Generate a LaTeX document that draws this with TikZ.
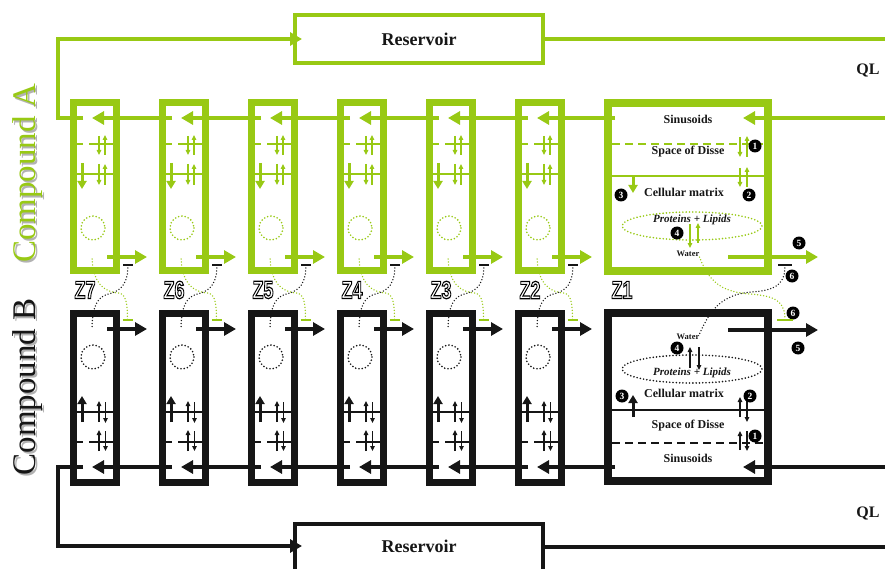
\documentclass[tikz,border=0pt]{standalone}
\usepackage{fontspec}
\usepackage{graphicx}
\setmainfont{Liberation Serif}
\newfontfamily\zfont{Liberation Sans}
\usetikzlibrary{arrows.meta}
\definecolor{gA}{RGB}{152,201,20}
\definecolor{kB}{RGB}{22,22,22}
\newcommand\outlinetext[1]{\special{pdf:literal direct 1 Tr 1.2 w}#1\special{pdf:literal direct 0 Tr}}
\tikzset{
 boxw/.style={draw, line width=7pt, minimum width=43pt, minimum height=167pt, inner sep=0pt},
 bigbox/.style={draw, line width=8pt, minimum width=160pt, minimum height=168pt, inner sep=0pt},
 resbox/.style={draw, line width=4pt, minimum width=248pt, minimum height=48pt, inner sep=0pt},
 restext/.style={font=\bfseries\fontsize{18}{18}\selectfont, text=kB, inner sep=0pt},
 flow/.style={line width=4pt, -{Triangle[length=12pt,width=13pt]}},
 flowline/.style={line width=4pt},
 vflux/.style={line width=3pt, -{Triangle[length=8pt,width=9pt]}},
 thinar/.style={line width=1.2pt, -{Triangle[length=5pt,width=4.5pt]}},
 memb/.style={line width=2.5pt},
 dmemb/.style={line width=2.5pt, dash pattern=on 8pt off 5pt},
 dotring/.style={line width=1.8pt, line cap=round, dash pattern=on 0pt off 3.3pt},
 conn/.style={line width=1.5pt, line cap=round, dash pattern=on 0pt off 3pt},
 tbar/.style={line width=1.2pt},
 num/.style={circle, fill=black, text=white, inner sep=0pt, minimum size=13pt, font=\bfseries\fontsize{9.5}{9.5}\selectfont},
 lab/.style={font=\bfseries\fontsize{12}{12}\selectfont, text=kB, inner sep=0pt},
 plab/.style={font=\bfseries\itshape\fontsize{11}{11}\selectfont, text=kB, inner sep=0pt},
 wlab/.style={font=\bfseries\fontsize{8.5}{8.5}\selectfont, text=kB, inner sep=0pt},
 qlab/.style={font=\bfseries\fontsize{16}{16}\selectfont, text=kB, inner sep=0pt},
 zlabf/.style={font=\zfont\bfseries\fontsize{25}{25}\selectfont, inner sep=0pt, text=black},
 cmp/.style={rotate=90, anchor=base, font=\fontsize{33}{33}\selectfont, inner sep=0pt},
}
\begin{document}
\begin{tikzpicture}[x=1pt,y=-1pt]
\useasboundingbox (0,0) rectangle (885,569);
\clip (0,0) rectangle (885,569);

% ---------- side labels ----------
\node[cmp, text=black!30] at (37.5,175.5) {Compound A};
\node[cmp, text=gA] (cmpA) at (35.5,173.5) {Compound A};
\node[cmp, text=black!30] at (37.5,389) {Compound B};
\node[cmp, text=kB] (cmpB) at (35.5,387) {Compound B};

% ---------- reservoirs ----------
\node[resbox, draw=gA] (resA) at (419,39) {};
\node[restext] (resAt) at (419,39) {Reservoir};
\node[resbox, draw=kB, minimum height=64pt] (resB) at (419,556) {};
\node[restext] (resBt) at (419,546) {Reservoir};
\node[qlab] (qlA) at (868,71) {QL};
\node[qlab] (qlB) at (868,513) {QL};

\coordinate (edgeA) at (885,39);
\coordinate (edgeB) at (885,547);
\coordinate (resBout) at (543,547);
\coordinate (resAin) at (302,39);
\coordinate (resBin) at (302,546);
\draw[flowline, gA] (resA.east) -- (edgeA);
\draw[flowline, kB] (resBout) -- (edgeB);

% ---------- small compartments Z7..Z2 ----------
\foreach \i/\z in {0/7,1/6,2/5,3/4,4/3,5/2}{
 \pgfmathsetmacro\L{73.5+89*\i}
 \coordinate (aT\z) at (\L+18.5,118);
 \coordinate (aS\z) at (\L+9.5,118);
 \coordinate (bT\z) at (\L+18.5,467);
 \coordinate (bS\z) at (\L+9.5,467);
 % ---- compound A (green) ----
 \draw[memb, gA] (\L+3.5,144) -- (\L+9.5,144);
 \draw[memb, gA] (\L+15.5,144) -- (\L+39.5,144);
 \draw[memb, gA] (\L+3.5,174) -- (\L+39.5,174);
 \draw[thinar, gA] (\L+25.5,136) -- (\L+25.5,155);
 \draw[thinar, gA] (\L+31.5,155) -- (\L+31.5,135);
 \draw[thinar, gA] (\L+25.5,164) -- (\L+25.5,185);
 \draw[thinar, gA] (\L+31.5,185) -- (\L+31.5,164);
 \draw[vflux, gA] (\L+8.5,163) -- (\L+8.5,189);
 \draw[dotring, gA] (\L+19.5,228) circle[radius=12];
 \coordinate (aOs\z) at (\L+33.5,257);
 \coordinate (aOe\z) at (\L+73.5,257);
 \draw[flow, gA] (aOs\z) -- (aOe\z);
 \node[boxw, draw=gA] (bA\z) at (\L+21.5,186.5) {};
 % ---- compound B (black) ----
 \coordinate (bOs\z) at (\L+33.5,329);
 \coordinate (bOe\z) at (\L+73.5,329);
 \draw[flow, kB] (bOs\z) -- (bOe\z);
 \draw[dotring, kB] (\L+19.5,357) circle[radius=12];
 \draw[memb, kB] (\L+3.5,412) -- (\L+39.5,412);
 \draw[memb, kB] (\L+3.5,442) -- (\L+9.5,442);
 \draw[memb, kB] (\L+15.5,442) -- (\L+39.5,442);
 \draw[vflux, kB] (\L+8.5,422) -- (\L+8.5,396);
 \draw[thinar, kB] (\L+25.5,422) -- (\L+25.5,401);
 \draw[thinar, kB] (\L+32,402) -- (\L+32,423);
 \draw[thinar, kB] (\L+25.5,451) -- (\L+25.5,430);
 \draw[thinar, kB] (\L+32,431) -- (\L+32,451);
 \node[boxw, draw=kB, minimum height=169pt] (bB\z) at (\L+21.5,397.5) {};
 % ---- exchange connectors ----
 \coordinate (gTb\z) at (\L+54,320);
 \coordinate (kTb\z) at (\L+54.5,265);
 \draw[conn, gA] (\L+18.5,259) .. controls (\L+20,285) and (\L+32,292) .. (\L+45,293)
       .. controls (\L+53,294) and (\L+54,305) .. (gTb\z);
 \draw[tbar, gA] ([xshift=-5pt]gTb\z) -- ([xshift=5pt]gTb\z);
 \draw[conn, kB] (kTb\z) .. controls (\L+54.5,283) and (\L+48,291) .. (\L+35,294)
       .. controls (\L+22,297) and (\L+19,310) .. (\L+18.5,328);
 \draw[tbar, kB] ([xshift=-5pt]kTb\z) -- ([xshift=5pt]kTb\z);
 % ---- label ----
 \node[zlabf] (zl\z) at (\L+11.5,290) {\scalebox{0.72}[1]{\outlinetext{Z\z}}};
}

% ---------- Z1 compartment, compound A ----------
\coordinate (inA) at (885,118);
\coordinate (aT1) at (743,118);
\coordinate (aS1) at (615,118);
\draw[flow, gA] (inA) -- (aT1);
\draw[dmemb, gA] (612,144) -- (764,144);
\draw[memb, gA] (612,176) -- (764,176);
\node[lab] (sinA) at (688,119) {Sinusoids};
\node[lab] (disA) at (688,152) {Space of Disse};
\node[lab] (cmA) at (684,192) {Cellular matrix};
\draw[vflux, gA] (633,176) -- (633,193);
\draw[thinar, gA] (740,137) -- (740,157);
\draw[thinar, gA] (747,157) -- (747,136);
\draw[thinar, gA] (740,168) -- (740,187);
\draw[thinar, gA] (747,187) -- (747,167);
\draw[dotring, gA] (692,226) ellipse[x radius=70, y radius=14];
\node[plab] (plA) at (692,220) {Proteins + Lipids};
\draw[thinar, gA] (690,224) -- (690,248);
\draw[thinar, gA] (698,243) -- (698,223);
\node[wlab] (wA) at (688,254) {Water};
\coordinate (aOs1) at (728,257);
\coordinate (aOe1) at (818,257);
\draw[flow, gA] (aOs1) -- (aOe1);
\node[bigbox, draw=gA] (bA1) at (688,187) {};
\node[num] (nA1) at (755,146) {1};
\node[num] (nA2) at (749,195) {2};
\node[num] (nA3) at (621,195) {3};
\node[num] (nA4) at (677,233) {4};
\node[num] (nA5) at (799,243) {5};
\node[num] (nA6) at (792,276) {6};

% ---------- Z1 compartment, compound B ----------
\coordinate (inB) at (885,467);
\coordinate (bT1) at (743,467);
\coordinate (bS1) at (615,467);
\draw[flow, kB] (inB) -- (bT1);
\draw[memb, kB] (612,410) -- (764,410);
\draw[dmemb, kB] (612,443) -- (764,443);
\node[wlab] (wB) at (688,337) {Water};
\draw[thinar, kB] (690,368) -- (690,347);
\draw[thinar, kB] (699,347) -- (699,370);
\draw[dotring, kB] (692,369) ellipse[x radius=70, y radius=14];
\node[plab] (plB) at (692,373) {Proteins + Lipids};
\node[lab] (cmB) at (684,393) {Cellular matrix};
\draw[vflux, kB] (633,417) -- (633,395);
\draw[thinar, kB] (740,417) -- (740,397);
\draw[thinar, kB] (747,400) -- (747,422);
\node[lab] (disB) at (688,426) {Space of Disse};
\draw[thinar, kB] (740,450) -- (740,431);
\draw[thinar, kB] (747,431) -- (747,451);
\node[lab] (sinB) at (688,458) {Sinusoids};
\coordinate (bOs1) at (728,330);
\coordinate (bOe1) at (818,330);
\draw[flow, kB] (bOs1) -- (bOe1);
\node[bigbox, draw=kB] (bB1) at (688,397) {};
\node[num] (nB1) at (755,436) {1};
\node[num] (nB2) at (750,396) {2};
\node[num] (nB3) at (622,396) {3};
\node[num] (nB4) at (677,348) {4};
\node[num] (nB5) at (798,348) {5};
\node[num] (nB6) at (793,313) {6};

% ---------- Z1 exchange connectors ----------
\coordinate (gTb1) at (785,320);
\coordinate (kTb1) at (785,265);
\draw[conn, gA] (wA.south east) .. controls (710,285) and (725,292) .. (750,294)
      .. controls (778,296) and (785,303) .. (gTb1);
\draw[tbar, gA] ([xshift=-8pt]gTb1) -- ([xshift=8pt]gTb1);
\draw[conn, kB] (kTb1) .. controls (785,283) and (778,290) .. (752,292)
      .. controls (722,294) and (710,310) .. (wB.north east);
\draw[tbar, kB] ([xshift=-7pt]kTb1) -- ([xshift=7pt]kTb1);
\node[zlabf] (zl1) at (622,290) {\scalebox{0.72}[1]{\outlinetext{Z1}}};

% ---------- main flows between compartments ----------
\foreach \a/\b in {1/2,2/3,3/4,4/5,5/6,6/7}{
  \draw[flow, gA] (aS\a) -- (aT\b);
  \draw[flow, kB] (bS\a) -- (bT\b);
}
\coordinate (lA1) at (58,118);
\coordinate (lA2) at (58,39);
\coordinate (lB1) at (58,467);
\coordinate (lB2) at (58,546);
\draw[flow, gA] (aS7) -- (lA1) -- (lA2) -- (resAin);
\draw[flow, kB] (bS7) -- (lB1) -- (lB2) -- (resBin);
\end{tikzpicture}
\end{document}
